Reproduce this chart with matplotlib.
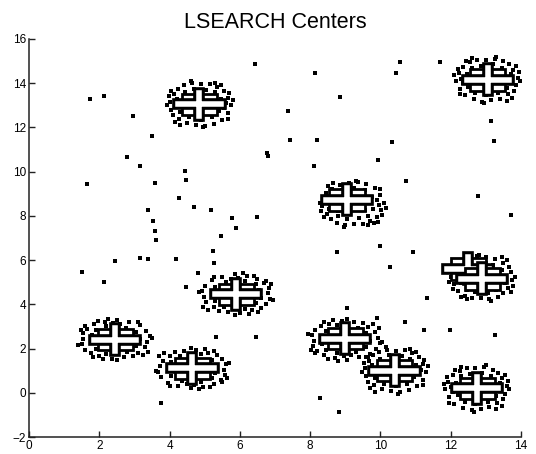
import matplotlib
matplotlib.use("Agg")
import matplotlib.pyplot as plt
import matplotlib.patheffects as pe
from matplotlib.patches import Rectangle
import numpy as np

plt.rcParams["font.family"] = ["Liberation Sans", "DejaVu Sans"]

# centers found by LSEARCH (cluster D has two)
center_x = [4.85, 13.05, 9.05, 12.5, 12.9, 5.9, 2.45, 4.65, 9.0, 10.4, 12.75]
center_y = [13.05, 14.15, 8.72, 5.6, 5.15, 4.45, 2.4, 1.1, 2.45, 1.0, 0.2]

# clustered points
a_x = [4.00, 4.05, 4.13, 4.25, 4.40, 4.65, 4.90, 5.15, 5.35, 5.55, 5.67, 5.75, 5.65, 5.50, 5.25, 5.00, 4.75, 4.50, 4.27, 4.10, 3.93, 4.20, 4.30, 4.45, 4.55, 5.30, 5.45, 5.40, 5.20, 5.55, 4.70, 5.05, 4.90, 4.35, 5.60, 3.97, 5.80, 4.60, 5.30, 4.15, 5.65, 4.95, 4.45, 5.20, 5.10, 4.65, 5.70, 4.05, 5.47, 4.30]
a_y = [13.15, 12.80, 13.50, 13.75, 13.90, 14.00, 13.95, 13.97, 13.85, 13.65, 13.35, 13.00, 12.65, 12.35, 12.17, 12.07, 12.13, 12.20, 12.40, 12.55, 13.00, 13.30, 12.70, 13.60, 12.45, 13.60, 13.30, 12.75, 12.45, 12.90, 13.75, 13.70, 12.35, 13.10, 13.10, 13.40, 13.25, 14.10, 14.03, 12.25, 12.40, 12.00, 13.40, 13.35, 12.70, 12.75, 13.55, 13.67, 13.90, 12.10]
b_x = [13.90, 13.85, 13.77, 13.65, 13.50, 13.25, 13.00, 12.75, 12.55, 12.35, 12.23, 12.15, 12.25, 12.40, 12.65, 12.90, 13.15, 13.40, 13.63, 13.80, 13.97, 13.70, 13.60, 13.45, 13.35, 12.60, 12.45, 12.50, 12.70, 12.35, 13.20, 12.85, 13.00, 13.55, 12.30, 13.93, 12.10, 13.30, 12.60, 13.75, 12.25, 12.95, 13.45, 12.70, 12.80, 13.25, 12.20, 13.85, 12.43, 13.60]
b_y = [14.25, 13.90, 14.60, 14.85, 15.00, 15.10, 15.05, 15.07, 14.95, 14.75, 14.45, 14.10, 13.75, 13.45, 13.27, 13.17, 13.23, 13.30, 13.50, 13.65, 14.10, 14.40, 13.80, 14.70, 13.55, 14.70, 14.40, 13.85, 13.55, 14.00, 14.85, 14.80, 13.45, 14.20, 14.20, 14.50, 14.35, 15.20, 15.13, 13.35, 13.50, 13.10, 14.50, 14.45, 13.80, 13.85, 14.65, 14.77, 15.00, 13.20]
c_x = [8.35, 8.40, 8.48, 8.60, 8.75, 9.00, 9.25, 9.50, 9.70, 9.90, 10.02, 10.10, 10.00, 9.85, 9.60, 9.35, 9.10, 8.85, 8.62, 8.45, 8.28, 8.55, 8.65, 8.80, 8.90, 9.65, 9.80, 9.75, 9.55, 9.90, 9.05, 9.40, 9.25, 8.70, 9.95, 8.32, 10.15, 8.95, 9.65, 8.50, 10.00, 9.30, 8.80, 9.55, 9.45, 9.00, 10.05, 8.40, 9.82, 8.65]
c_y = [8.45, 8.80, 8.10, 7.85, 7.70, 7.60, 7.65, 7.63, 7.75, 7.95, 8.25, 8.60, 8.95, 9.25, 9.43, 9.53, 9.47, 9.40, 9.20, 9.05, 8.60, 8.30, 8.90, 8.00, 9.15, 8.00, 8.30, 8.85, 9.15, 8.70, 7.85, 7.90, 9.25, 8.50, 8.50, 8.20, 8.35, 7.50, 7.57, 9.35, 9.20, 9.60, 8.20, 8.25, 8.90, 8.85, 8.05, 7.93, 7.70, 9.50]
d_x = [13.75, 13.70, 13.62, 13.50, 13.35, 13.10, 12.85, 12.60, 12.40, 12.20, 12.08, 12.00, 12.10, 12.25, 12.50, 12.75, 13.00, 13.25, 13.48, 13.65, 13.82, 13.55, 13.45, 13.30, 13.20, 12.45, 12.30, 12.35, 12.55, 12.20, 13.05, 12.70, 12.85, 13.40, 12.15, 13.78, 11.95, 13.15, 12.45, 13.60, 12.10, 12.80, 13.30, 12.55, 12.65, 13.10, 12.05, 13.70, 12.28, 13.45]
d_y = [5.10, 5.45, 4.75, 4.50, 4.35, 4.25, 4.30, 4.28, 4.40, 4.60, 4.90, 5.25, 5.60, 5.90, 6.08, 6.18, 6.12, 6.05, 5.85, 5.70, 5.25, 4.95, 5.55, 4.65, 5.80, 4.65, 4.95, 5.50, 5.80, 5.35, 4.50, 4.55, 5.90, 5.15, 5.15, 4.85, 5.00, 4.15, 4.22, 6.00, 5.85, 6.25, 4.85, 4.90, 5.55, 5.50, 4.70, 4.58, 4.35, 6.15]
e_x = [6.00, 5.65, 6.35, 6.60, 6.75, 6.85, 6.80, 6.82, 6.70, 6.50, 6.20, 5.85, 5.50, 5.20, 5.02, 4.92, 4.98, 5.05, 5.25, 5.40, 5.85, 6.15, 5.55, 6.45, 5.30, 6.45, 6.15, 5.60, 5.30, 5.75, 6.60, 6.55, 5.20, 5.95, 5.95, 6.25, 6.10, 6.95, 6.88, 5.10, 5.25, 4.85, 6.25, 6.20, 5.55, 5.60, 6.40, 6.52, 6.75, 4.95]
e_y = [3.60, 3.65, 3.73, 3.85, 4.00, 4.25, 4.50, 4.75, 4.95, 5.15, 5.27, 5.35, 5.25, 5.10, 4.85, 4.60, 4.35, 4.10, 3.87, 3.70, 3.53, 3.80, 3.90, 4.05, 4.15, 4.90, 5.05, 5.00, 4.80, 5.15, 4.30, 4.65, 4.50, 3.95, 5.20, 3.57, 5.40, 4.20, 4.90, 3.75, 5.25, 4.55, 4.05, 4.80, 4.70, 4.25, 5.30, 3.65, 5.07, 3.90]
f_x = [2.35, 2.70, 2.00, 1.75, 1.60, 1.50, 1.55, 1.53, 1.65, 1.85, 2.15, 2.50, 2.85, 3.15, 3.33, 3.43, 3.37, 3.30, 3.10, 2.95, 2.50, 2.20, 2.80, 1.90, 3.05, 1.90, 2.20, 2.75, 3.05, 2.60, 1.75, 1.80, 3.15, 2.40, 2.40, 2.10, 2.25, 1.40, 1.47, 3.25, 3.10, 3.50, 2.10, 2.15, 2.80, 2.75, 1.95, 1.83, 1.60, 3.40]
f_y = [1.55, 1.60, 1.68, 1.80, 1.95, 2.20, 2.45, 2.70, 2.90, 3.10, 3.22, 3.30, 3.20, 3.05, 2.80, 2.55, 2.30, 2.05, 1.82, 1.65, 1.48, 1.75, 1.85, 2.00, 2.10, 2.85, 3.00, 2.95, 2.75, 3.10, 2.25, 2.60, 2.45, 1.90, 3.15, 1.52, 3.35, 2.15, 2.85, 1.70, 3.20, 2.50, 2.00, 2.75, 2.65, 2.20, 3.25, 1.60, 3.02, 1.85]
g_x = [4.75, 4.40, 5.10, 5.35, 5.50, 5.60, 5.55, 5.57, 5.45, 5.25, 4.95, 4.60, 4.25, 3.95, 3.77, 3.67, 3.73, 3.80, 4.00, 4.15, 4.60, 4.90, 4.30, 5.20, 4.05, 5.20, 4.90, 4.35, 4.05, 4.50, 5.35, 5.30, 3.95, 4.70, 4.70, 5.00, 4.85, 5.70, 5.63, 3.85, 4.00, 3.60, 5.00, 4.95, 4.30, 4.35, 5.15, 5.27, 5.50, 3.70]
g_y = [1.95, 1.90, 1.82, 1.70, 1.55, 1.30, 1.05, 0.80, 0.60, 0.40, 0.28, 0.20, 0.30, 0.45, 0.70, 0.95, 1.20, 1.45, 1.68, 1.85, 2.02, 1.75, 1.65, 1.50, 1.40, 0.65, 0.50, 0.55, 0.75, 0.40, 1.25, 0.90, 1.05, 1.60, 0.35, 1.98, 0.15, 1.35, 0.65, 1.80, 0.30, 1.00, 1.50, 0.75, 0.85, 1.30, 0.25, 1.90, 0.48, 1.65]
h_x = [8.90, 9.25, 8.55, 8.30, 8.15, 8.05, 8.10, 8.08, 8.20, 8.40, 8.70, 9.05, 9.40, 9.70, 9.88, 9.98, 9.92, 9.85, 9.65, 9.50, 9.05, 8.75, 9.35, 8.45, 9.60, 8.45, 8.75, 9.30, 9.60, 9.15, 8.30, 8.35, 9.70, 8.95, 8.95, 8.65, 8.80, 7.95, 8.02, 9.80, 9.65, 10.05, 8.65, 8.70, 9.35, 9.30, 8.50, 8.38, 8.15, 9.95]
h_y = [3.25, 3.20, 3.12, 3.00, 2.85, 2.60, 2.35, 2.10, 1.90, 1.70, 1.58, 1.50, 1.60, 1.75, 2.00, 2.25, 2.50, 2.75, 2.98, 3.15, 3.32, 3.05, 2.95, 2.80, 2.70, 1.95, 1.80, 1.85, 2.05, 1.70, 2.55, 2.20, 2.35, 2.90, 1.65, 3.28, 1.45, 2.65, 1.95, 3.10, 1.60, 2.30, 2.80, 2.05, 2.15, 2.60, 1.55, 3.20, 1.78, 2.95]
i_x = [9.55, 9.60, 9.68, 9.80, 9.95, 10.20, 10.45, 10.70, 10.90, 11.10, 11.22, 11.30, 11.20, 11.05, 10.80, 10.55, 10.30, 10.05, 9.82, 9.65, 9.48, 9.75, 9.85, 10.00, 10.10, 10.85, 11.00, 10.95, 10.75, 11.10, 10.25, 10.60, 10.45, 9.90, 11.15, 9.52, 11.35, 10.15, 10.85, 9.70, 11.20, 10.50, 10.00, 10.75, 10.65, 10.20, 11.25, 9.60, 11.02, 9.85]
i_y = [1.10, 0.75, 1.45, 1.70, 1.85, 1.95, 1.90, 1.92, 1.80, 1.60, 1.30, 0.95, 0.60, 0.30, 0.12, 0.02, 0.08, 0.15, 0.35, 0.50, 0.95, 1.25, 0.65, 1.55, 0.40, 1.55, 1.25, 0.70, 0.40, 0.85, 1.70, 1.65, 0.30, 1.05, 1.05, 1.35, 1.20, 2.05, 1.98, 0.20, 0.35, -0.05, 1.35, 1.30, 0.65, 0.70, 1.50, 1.62, 1.85, 0.05]
j_x = [13.60, 13.55, 13.47, 13.35, 13.20, 12.95, 12.70, 12.45, 12.25, 12.05, 11.93, 11.85, 11.95, 12.10, 12.35, 12.60, 12.85, 13.10, 13.33, 13.50, 13.67, 13.40, 13.30, 13.15, 13.05, 12.30, 12.15, 12.20, 12.40, 12.05, 12.90, 12.55, 12.70, 13.25, 12.00, 13.63, 11.80, 13.00, 12.30, 13.45, 11.95, 12.65, 13.15, 12.40, 12.50, 12.95, 11.90, 13.55, 12.13, 13.30]
j_y = [0.30, -0.05, 0.65, 0.90, 1.05, 1.15, 1.10, 1.12, 1.00, 0.80, 0.50, 0.15, -0.20, -0.50, -0.68, -0.78, -0.72, -0.65, -0.45, -0.30, 0.15, 0.45, -0.15, 0.75, -0.40, 0.75, 0.45, -0.10, -0.40, 0.05, 0.90, 0.85, -0.50, 0.25, 0.25, 0.55, 0.40, 1.25, 1.18, -0.60, -0.45, -0.85, 0.55, 0.50, -0.15, -0.10, 0.70, 0.82, 1.05, -0.75]

# scattered background points
noise_x = [1.74, 2.13, 2.96, 3.50, 6.43, 2.79, 3.16, 4.44, 4.47, 3.59, 1.65, 4.27, 4.70, 3.39, 3.53, 3.59, 5.18, 5.78, 5.89, 5.46, 6.49, 6.80, 6.77, 7.43, 7.37, 8.14, 8.20, 8.85, 8.11, 10.33, 9.93, 10.73, 10.44, 10.56, 11.70, 13.15, 13.23, 12.78, 13.72, 9.93, 9.99, 8.76, 10.93, 10.27, 11.33, 10.70, 11.24, 11.98, 13.26, 9.90, 9.05, 6.46, 5.32, 3.61, 3.16, 3.39, 4.18, 2.45, 1.51, 2.13, 4.47, 5.24, 5.27, 4.81, 3.76, 8.28, 8.82]
noise_y = [13.29, 13.42, 12.52, 11.62, 14.87, 10.67, 10.26, 10.03, 9.63, 9.49, 9.45, 8.81, 8.41, 8.27, 7.77, 7.32, 8.27, 7.91, 7.46, 7.10, 7.95, 10.71, 10.85, 11.44, 12.75, 14.46, 11.44, 13.38, 10.26, 11.34, 10.53, 9.58, 14.46, 14.96, 14.96, 12.29, 11.39, 8.90, 8.05, 7.73, 6.64, 6.37, 6.37, 5.69, 4.29, 3.21, 2.85, 2.85, 2.62, 3.39, 3.84, 2.53, 2.53, 6.92, 6.10, 6.06, 6.06, 5.97, 5.47, 5.02, 4.79, 6.42, 5.88, 5.42, -0.45, -0.23, -0.86]

pts_x = noise_x + a_x + b_x + c_x + d_x + e_x + f_x + g_x + h_x + i_x + j_x
pts_y = noise_y + a_y + b_y + c_y + d_y + e_y + f_y + g_y + h_y + i_y + j_y

fig = plt.figure(figsize=(5.36, 4.54), dpi=100)
ax = fig.add_axes([0.0541, 0.0374, 0.918, 0.8767])

ax.plot(pts_x, pts_y, "s", color="k", ms=2.6, mew=0, zorder=2)

arm_x, arm_y = 0.6, 0.52
for k, (cx, cy) in enumerate(zip(center_x, center_y)):
    z = 3 + 2 * k
    ax.add_patch(Rectangle((cx - 0.5, cy - 0.48), 1.0, 0.96, facecolor="white",
                           edgecolor="k", lw=2.0, zorder=z))
    ax.plot([cx - arm_x, cx + arm_x, np.nan, cx, cx],
            [cy, cy, np.nan, cy - arm_y, cy + arm_y],
            color="white", lw=4.0, solid_capstyle="projecting", zorder=z + 1,
            path_effects=[pe.Stroke(linewidth=8.4, foreground="k"), pe.Normal()])

ax.set_xlim(0, 14)
ax.set_ylim(-2, 16)
ax.set_xticks(range(0, 15, 2))
ax.set_yticks(range(-2, 17, 2))
ax.set_yticklabels(["\u22122"] + [str(v) for v in range(0, 17, 2)])
for s in ["top", "right"]:
    ax.spines[s].set_visible(False)
for s in ["left", "bottom"]:
    ax.spines[s].set_linewidth(1.1)
    ax.spines[s].set_color("#222222")
ax.tick_params(direction="in", length=4, width=1.0, labelsize=8.5, pad=2,
               color="#222222")
ax.set_title("LSEARCH Centers", fontsize=15.5, pad=8)

fig.savefig("out.png", dpi=100)
